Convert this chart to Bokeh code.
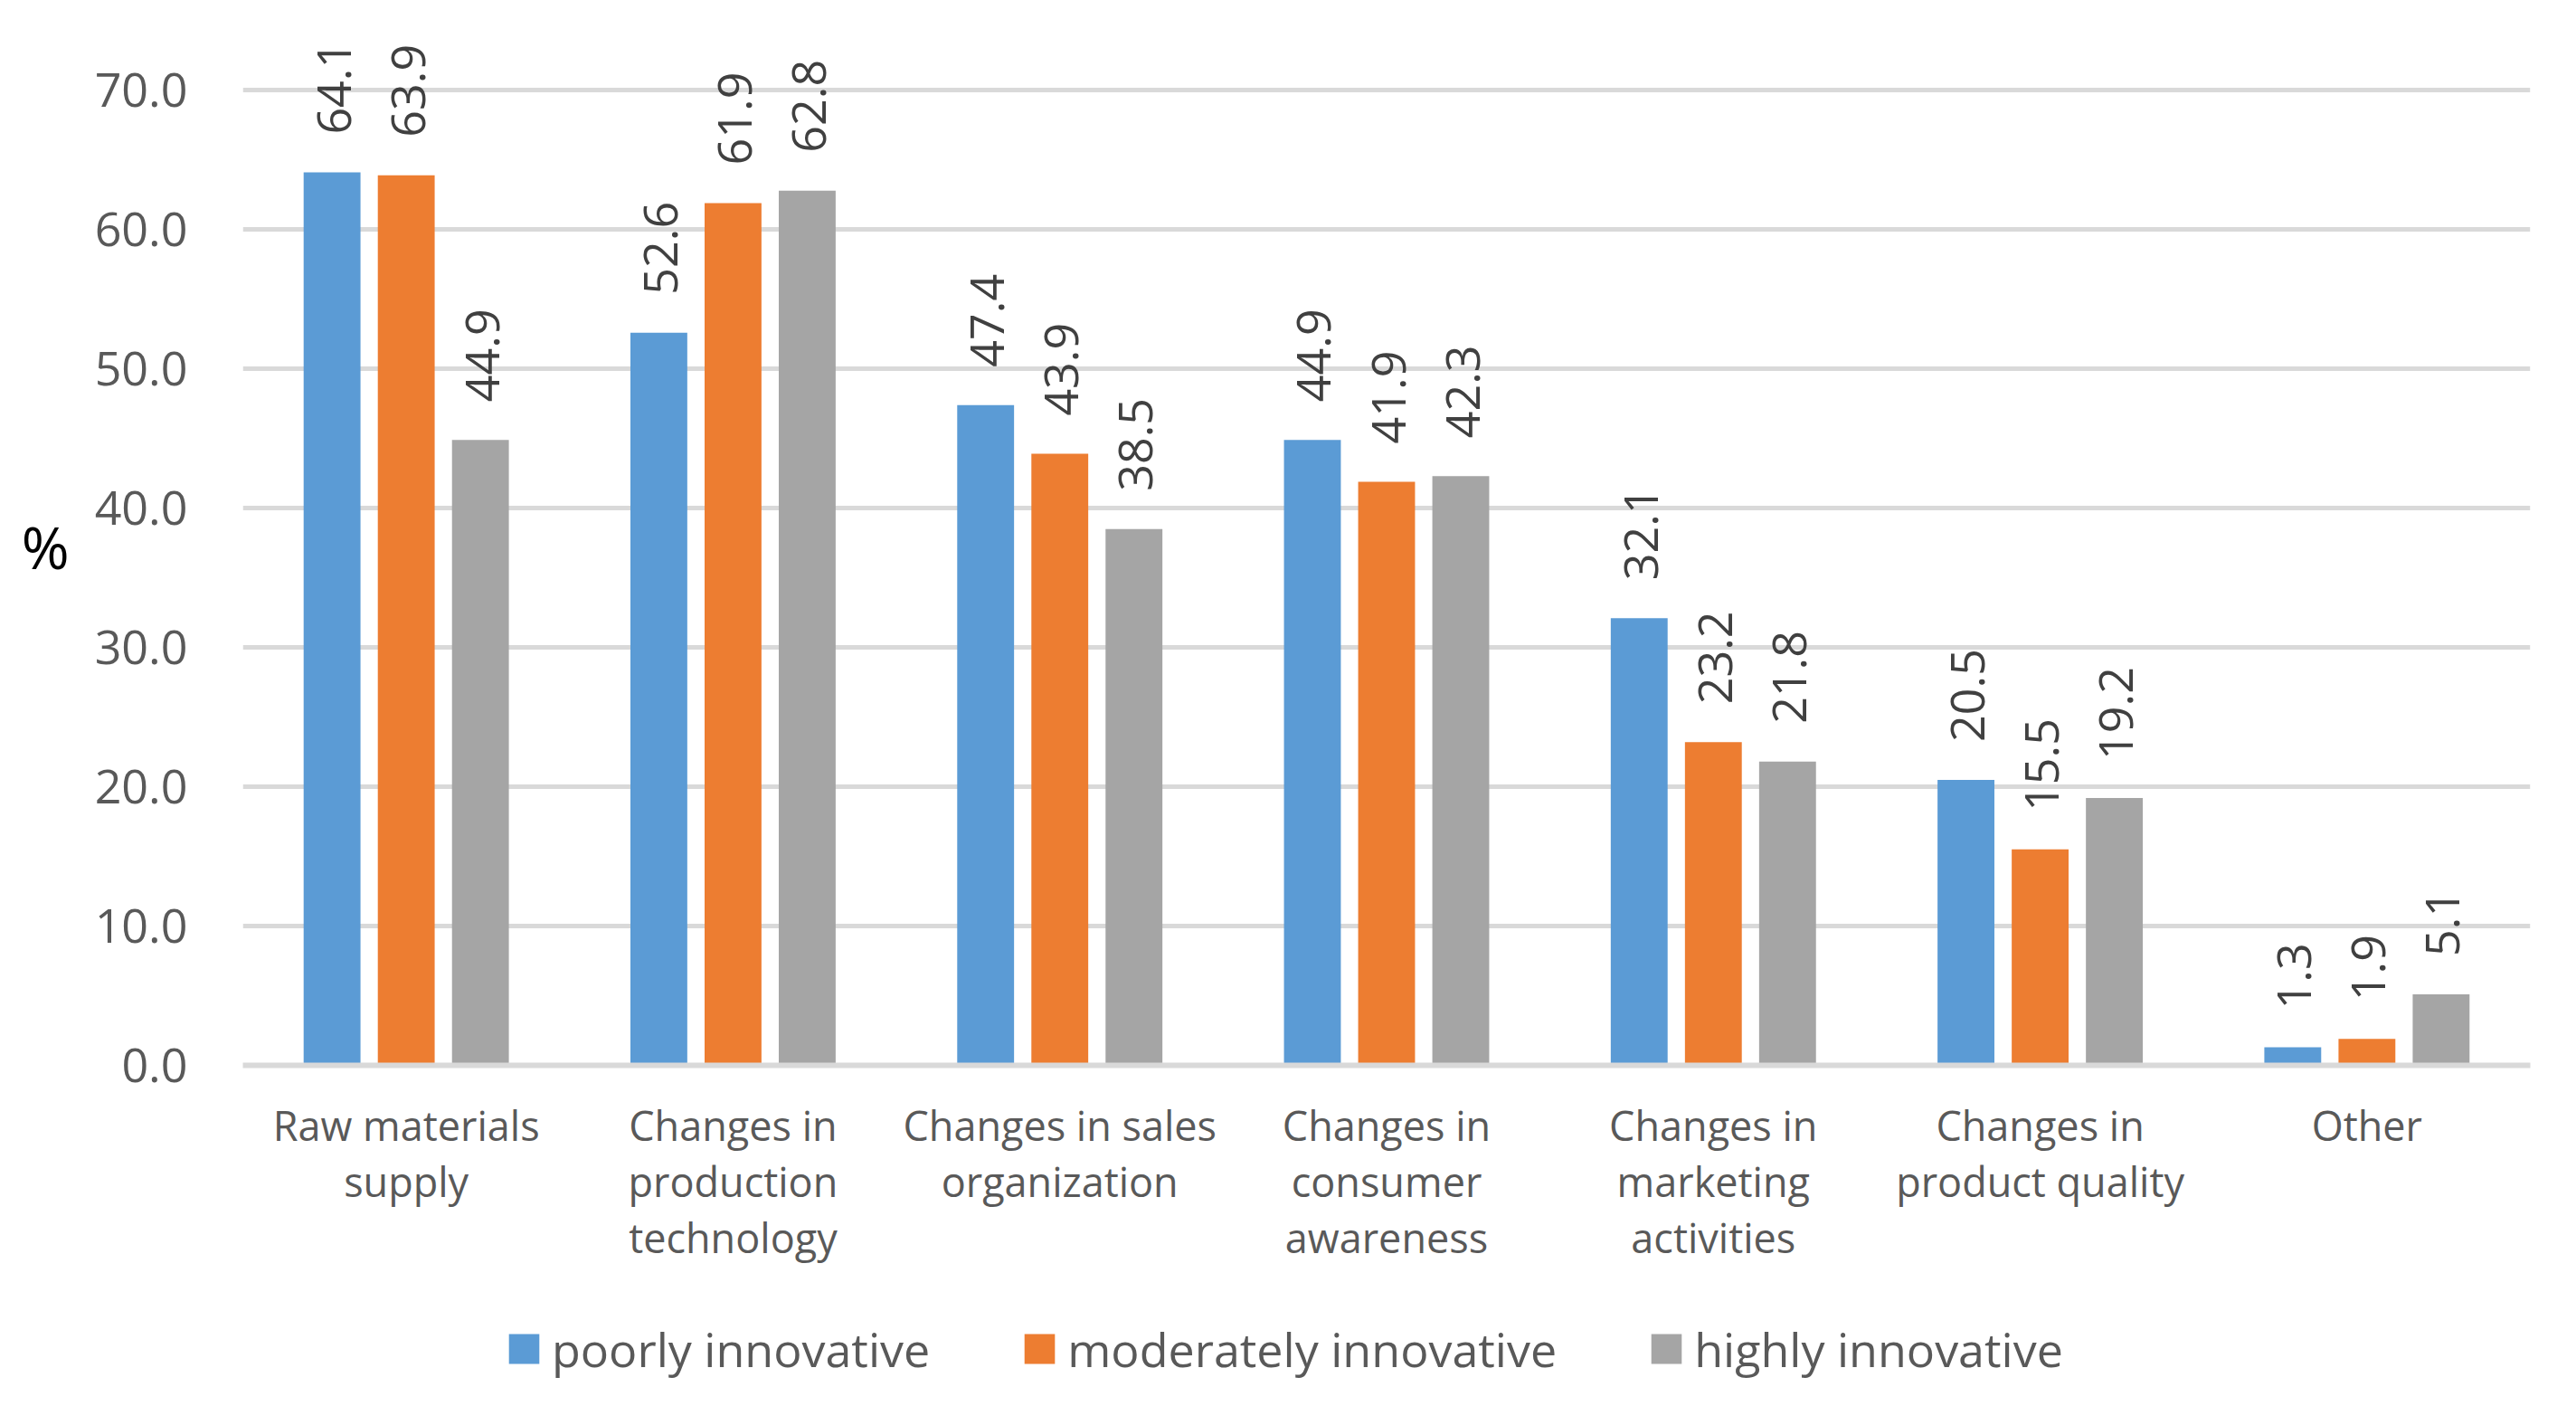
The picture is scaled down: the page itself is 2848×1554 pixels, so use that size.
import math
from bokeh.plotting import figure
from bokeh.layouts import column
from bokeh.models import ColumnDataSource, FactorRange, FixedTicker, NumeralTickFormatter, Legend, LegendItem, Range1d
from bokeh.transform import dodge
from bokeh.core.properties import value
from bokeh.embed import file_html
from bokeh.resources import INLINE

categories = [
    "Raw materials\nsupply",
    "Changes in\nproduction\ntechnology",
    "Changes in sales\norganization",
    "Changes in\nconsumer\nawareness",
    "Changes in\nmarketing\nactivities",
    "Changes in\nproduct quality",
    "Other",
]
series_names = ["poorly innovative", "moderately innovative", "highly innovative"]
poorly = [64.1, 52.6, 47.4, 44.9, 32.1, 20.5, 1.3]
moderately = [63.9, 61.9, 43.9, 41.9, 23.2, 15.5, 1.9]
highly = [44.9, 62.8, 38.5, 42.3, 21.8, 19.2, 5.1]
y_ticks = [0, 10, 20, 30, 40, 50, 60, 70]

colors = ["#5B9BD5", "#ED7D31", "#A5A5A5"]
FONT = "Open Sans"

src = ColumnDataSource(dict(
    cat=categories,
    poorly=poorly, moderately=moderately, highly=highly,
    poorly_t=["%.1f" % v for v in poorly],
    moderately_t=["%.1f" % v for v in moderately],
    highly_t=["%.1f" % v for v in highly],
))

p = figure(x_range=FactorRange(factors=categories), y_range=(0, 74.5),
           frame_width=2529, frame_height=1147, output_backend="svg", toolbar_location=None,
           min_border_left=268, min_border_right=35, min_border_top=30, min_border_bottom=260)
p.outline_line_color = None
p.background_fill_color = "white"

offsets = [-0.227, 0.0, 0.227]
keys = ["poorly", "moderately", "highly"]
for k, off, c in zip(keys, offsets, colors):
    p.vbar(x=dodge("cat", off, range=p.x_range), top=k, width=0.174, source=src,
           fill_color=c, line_color=None)
    p.text(x=dodge("cat", off, range=p.x_range), y=k, text=k + "_t", source=src,
           angle=math.pi / 2, text_align="left", text_baseline="middle",
           x_offset=2, y_offset=-42,
           text_font=value(FONT), text_font_size="52px", text_color="#404040")

# axes
p.yaxis.ticker = FixedTicker(ticks=y_ticks)
p.yaxis.formatter = NumeralTickFormatter(format="0.0")
p.yaxis.axis_line_color = None
p.yaxis.major_tick_line_color = None
p.yaxis.minor_tick_line_color = None
p.yaxis.major_label_standoff = 55
p.yaxis.major_label_text_font = FONT
p.yaxis.major_label_text_font_size = "52px"
p.yaxis.major_label_text_color = "#595959"
p.yaxis.axis_label = "%"
p.yaxis.axis_label_orientation = "horizontal"
p.yaxis.axis_label_text_font = FONT
p.yaxis.axis_label_text_font_size = "64px"
p.yaxis.axis_label_text_font_style = "normal"
p.yaxis.axis_label_text_color = "#000000"
p.yaxis.axis_label_standoff = 25

p.xaxis.axis_line_color = "#D9D9D9"
p.xaxis.axis_line_width = 6
p.xaxis.major_tick_line_color = None
p.xaxis.minor_tick_line_color = None
p.xaxis.major_label_standoff = 29
p.xaxis.major_label_text_font = FONT
p.xaxis.major_label_text_font_size = "45px"
p.xaxis.major_label_text_color = "#595959"
p.xaxis.major_label_text_line_height = 1.02

p.xgrid.grid_line_color = None
p.ygrid.grid_line_color = "#D9D9D9"
p.ygrid.grid_line_width = 5

# legend in its own strip below the chart (proxy renderers carry the series colours,
# drawn outside this strip's visible range)
lf = figure(width=2832, height=100, output_backend="svg", toolbar_location=None,
            x_range=Range1d(0, 1), y_range=Range1d(0, 1),
            x_axis_type=None, y_axis_type=None,
            min_border_left=0, min_border_right=0, min_border_top=0, min_border_bottom=0)
lf.outline_line_color = None
lf.grid.grid_line_color = None
proxy = ColumnDataSource(dict(x=[-5.0], top=[-5.0]))
dummies = [lf.vbar(x="x", top="top", width=0.1, source=proxy, fill_color=c, line_color=None)
           for c in colors]
legend = Legend(items=[LegendItem(label=n, renderers=[r]) for n, r in zip(series_names, dummies)],
                orientation="horizontal", location=(290, 11),
                glyph_width=42, glyph_height=41, label_standoff=10, spacing=100,
                label_text_font=FONT, label_text_font_size="52px", label_text_color="#595959",
                border_line_color=None, background_fill_alpha=0, padding=0, margin=0)
lf.add_layout(legend, "center")

layout = column(p, lf)
open("out.html", "w").write(file_html(layout, INLINE))
